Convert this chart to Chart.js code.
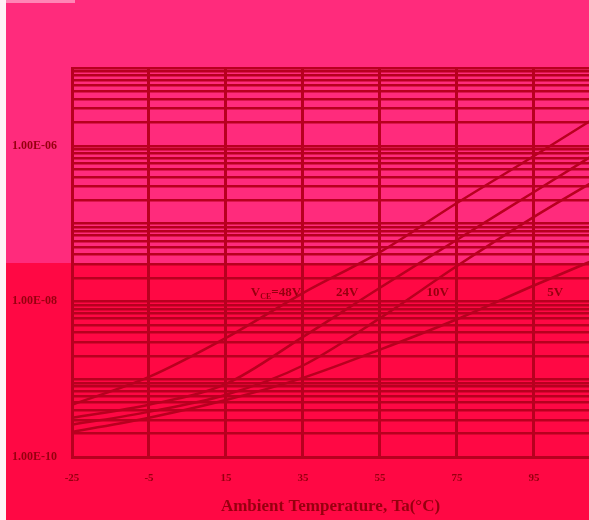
<!DOCTYPE html>
<html>
<head>
<meta charset="utf-8">
<script src="https://cdn.jsdelivr.net/npm/chart.js@4/dist/chart.umd.min.js"></script>
<style>
html,body{margin:0;padding:0;background:#fff;overflow:hidden;}
#c{display:block;}
</style>
</head>
<body>
<canvas id="c" width="589" height="520"></canvas>
<script>
// ---- data ----
const temperatures = [-25, -5, 15, 35, 55, 75, 95, 115];
const ice48V = [4.7e-10, 1.07e-9, 3.4e-9, 1.28e-8, 4.3e-8, 1.84e-7, 7.4e-7, 3.06e-6];
const ice24V = [3.2e-10, 4.7e-10, 8.7e-10, 3.5e-9, 1.5e-8, 6.2e-8, 2.55e-7, 1.05e-6];
const ice10V = [2.6e-10, 3.8e-10, 6.3e-10, 1.5e-9, 6.1e-9, 2.85e-8, 1.22e-7, 4.7e-7];
const ice5V  = [2.1e-10, 3.2e-10, 5.4e-10, 1.04e-9, 2.4e-9, 5.9e-9, 1.6e-8, 4.2e-8];
const xTickValues = [-25, -5, 15, 35, 55, 75, 95];
const yLabelValues = [1e-10, 1e-8, 1e-6];
const yDecades = [-10, -9, -8, -7, -6];
const curveLabels = [
  {sub: true, text: "48V", t: 34.5, v: 1.3e-8},
  {sub: false, text: "24V", t: 46.5, v: 1.3e-8},
  {sub: false, text: "10V", t: 70, v: 1.3e-8},
  {sub: false, text: "5V", t: 100.5, v: 1.3e-8}
];
const xTitle = "Ambient Temperature, Ta(\u00B0C)";

// ---- build tick lists ----
const yTickValues = [];
yDecades.forEach(e => { for (let m = 1; m <= 9; m++) yTickValues.push(m * Math.pow(10, e)); });
yTickValues.push(1e-5);

const GRID = '#b8001f';
const TEXT = '#96000f';
const FONT = "'Liberation Serif', 'Times New Roman', serif";

function toPts(arr) { return temperatures.map((t, i) => ({x: t, y: arr[i]})); }

const bgPlugin = {
  id: 'bg',
  beforeDraw(chart) {
    const ctx = chart.ctx, w = chart.width, h = chart.height;
    ctx.save();
    ctx.fillStyle = '#ff2b7c';
    ctx.fillRect(0, 0, w, 263);
    ctx.fillStyle = '#ff0844';
    ctx.fillRect(0, 263, w, h - 263);
    ctx.fillStyle = '#ff86b6';
    ctx.fillRect(6, 0, 69, 3);
    ctx.fillStyle = '#fff2f6';
    ctx.fillRect(0, 0, 6, h);
    ctx.restore();
  }
};

const labelPlugin = {
  id: 'curveLabels',
  afterDatasetsDraw(chart) {
    const ctx = chart.ctx, xs = chart.scales.x, ys = chart.scales.y;
    ctx.save();
    ctx.fillStyle = TEXT;
    ctx.textBaseline = 'middle';
    curveLabels.forEach(l => {
      const px = xs.getPixelForValue(l.t), py = ys.getPixelForValue(l.v);
      if (l.sub) {
        const big = "bold 13px " + FONT, small = "bold 8px " + FONT;
        ctx.font = big; const wV = ctx.measureText("V").width;
        ctx.font = small; const wCE = ctx.measureText("CE").width;
        ctx.font = big; const wRest = ctx.measureText("=" + l.text).width;
        let x0 = px - (wV + wCE + wRest);
        ctx.textAlign = 'left';
        ctx.font = big; ctx.fillText("V", x0, py);
        ctx.font = small; ctx.fillText("CE", x0 + wV, py + 4);
        ctx.font = big; ctx.fillText("=" + l.text, x0 + wV + wCE, py);
      } else {
        ctx.font = "bold 13px " + FONT;
        ctx.textAlign = 'center';
        ctx.fillText(l.text, px, py);
      }
    });
    ctx.restore();
  }
};

const ds = (label, arr) => ({
  label, data: toPts(arr), borderColor: GRID, borderWidth: 2.5,
  pointRadius: 0, fill: false, tension: 0.35, cubicInterpolationMode: 'monotone'
});

new Chart(document.getElementById('c'), {
  type: 'line',
  data: { datasets: [ds('48V', ice48V), ds('24V', ice24V), ds('10V', ice10V), ds('5V', ice5V)] },
  options: {
    responsive: false, animation: false, devicePixelRatio: 1,
    layout: { padding: { left: 12, top: 68, right: 0, bottom: 0 } },
    plugins: { legend: { display: false }, tooltip: { enabled: false } },
    scales: {
      x: {
        type: 'linear', min: -25, max: 109.3,
        afterBuildTicks: s => { s.ticks = xTickValues.map(v => ({value: v})); },
        afterFit: s => { s.height = 63; },
        grid: { color: GRID, lineWidth: 3, drawTicks: false },
        border: { color: GRID, width: 3 },
        ticks: { autoSkip: false, maxRotation: 0, padding: 15, color: TEXT,
                 font: { family: FONT, size: 11, weight: 'bold' } },
        title: { display: true, text: xTitle, color: TEXT, padding: { top: 0, bottom: 3 },
                 font: { family: FONT, size: 17, weight: 'bold' } }
      },
      y: {
        type: 'logarithmic', min: 1e-10, max: 1e-5,
        afterBuildTicks: s => { s.ticks = yTickValues.map(v => ({value: v})); },
        afterFit: s => { s.width = 60; },
        grid: { color: GRID, lineWidth: 2.5, drawTicks: false },
        border: { color: GRID, width: 3 },
        ticks: {
          autoSkip: false, padding: 4, crossAlign: 'far', color: TEXT,
          font: { family: FONT, size: 12, weight: 'bold' },
          callback: v => {
            const hit = yLabelValues.find(l => Math.abs(Math.log10(v) - Math.log10(l)) < 1e-6);
            if (hit === undefined) return '';
            const [m, e] = hit.toExponential(2).split('e');
            const ev = parseInt(e, 10);
            return m + 'E' + (ev < 0 ? '-' : '+') + String(Math.abs(ev)).padStart(2, '0');
          }
        }
      }
    }
  },
  plugins: [bgPlugin, labelPlugin]
});
</script>
</body>
</html>
